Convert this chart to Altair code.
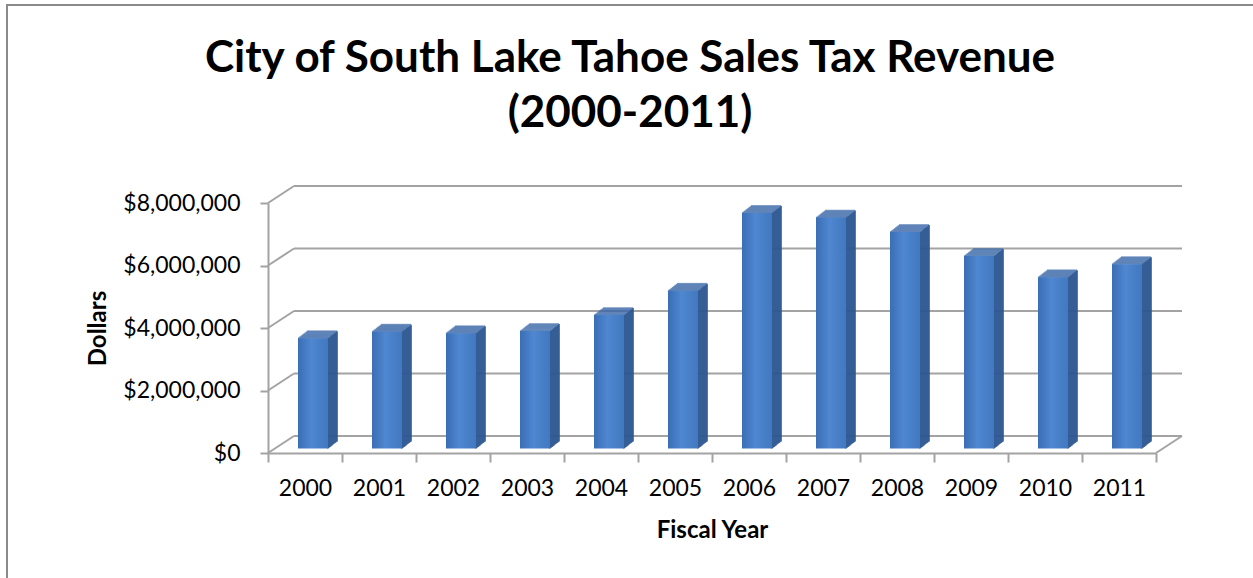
import altair as alt
import pandas as pd

# ---- data ----
years = ["2000", "2001", "2002", "2003", "2004", "2005",
         "2006", "2007", "2008", "2009", "2010", "2011"]
revenue = [3530000, 3740000, 3690000, 3760000, 4270000, 5050000,
           7540000, 7390000, 6930000, 6160000, 5480000, 5900000]
grid_values = [0, 2000000, 4000000, 6000000, 8000000]
title_lines = ["City of South Lake Tahoe Sales Tax Revenue", "(2000-2011)"]

df = pd.DataFrame({"Year": years, "Revenue": revenue})
grid_df = pd.DataFrame({"v": grid_values})
one_df = pd.DataFrame({"a": [0]})

# ---- style / layout ----
W, H = 888, 250
DX, DY = 26, 17          # depth of the wall/floor
BX, BY = 8, 4.5          # bar front plane offset
BW = 30                  # bar width
SX, SY = 9, 7            # bar depth
FONT = "Lato"
GRID = "#A3A3A3"
FRONT = alt.Gradient(
    gradient="linear", x1=0, x2=1, y1=0, y2=0,
    stops=[alt.GradientStop(color="#3A6EB5", offset=0),
           alt.GradientStop(color="#4F87D0", offset=0.45),
           alt.GradientStop(color="#4178BF", offset=1)])
SIDE = "#2D5892"
TOP = "#3A68A8"

yscale = alt.Scale(domain=[0, 8000000], nice=False, zero=True)
xscale = alt.Scale(domain=years, paddingInner=0, paddingOuter=0)

base = alt.Chart(df)

x_axis = alt.Axis(
    title="Fiscal Year", titleFont=FONT, titleFontSize=24, titleFontWeight="bold",
    titleColor="black", titleY=84, titleBaseline="alphabetic",
    labelFont=FONT, labelFontSize=23, labelColor="black", labelAngle=0,
    labelBaseline="alphabetic", labelPadding=33,
    tickBand="extent", tickSize=9, tickWidth=2, tickColor=GRID,
    domainColor=GRID, domainWidth=2, grid=False)
y_axis = alt.Axis(
    title="Dollars", titleFont=FONT, titleFontSize=24, titleFontWeight="bold",
    titleColor="black", titleX=-163, titleY=H / 2, titleAngle=-90,
    titleBaseline="alphabetic", titleAlign="center",
    labelFont=FONT, labelFontSize=23, labelColor="black", labelPadding=20,
    format="$,.0f", values=grid_values,
    tickSize=8, tickWidth=2, tickColor=GRID,
    domainColor=GRID, domainWidth=2, grid=False)

X = alt.X("Year:O", scale=xscale, axis=x_axis, sort=years)
Y = alt.Y("Revenue:Q", scale=yscale, axis=y_axis)
YV = alt.Y("v:Q", scale=yscale, axis=y_axis)

# back wall gridlines
back_grid = alt.Chart(grid_df).mark_rule(
    color=GRID, strokeWidth=2, yOffset=-DY
).encode(x=alt.value(DX), x2=alt.value(W + DX), y=YV)

# left wall diagonals
left_diag = alt.Chart(grid_df).mark_rule(
    color=GRID, strokeWidth=2, y2Offset=-DY
).encode(x=alt.value(0), x2=alt.value(DX), y=YV, y2=alt.Y2("v"))

# right floor diagonal
right_diag = alt.Chart(grid_df).transform_filter("datum.v == 0").mark_rule(
    color=GRID, strokeWidth=2, y2Offset=-DY
).encode(x=alt.value(W), x2=alt.value(W + DX), y=YV, y2=alt.Y2("v"))

# bar side faces
side_layers = []
for k in range(SX + 1):
    side_layers.append(
        base.mark_rule(color=SIDE, strokeWidth=1.6,
                       xOffset=BX + BW / 2 + k,
                       yOffset=-BY - k * SY / SX,
                       y2Offset=-BY - k * SY / SX).encode(
            x=X, y=Y, y2=alt.datum(0)))

# bar top faces
top_layers = []
for j in range(SY + 1):
    top_layers.append(
        base.mark_tick(color=TOP, orient="horizontal", size=BW, thickness=1.6,
                       xOffset=BX + j * SX / SY, yOffset=-BY - j).encode(
            x=X, y=Y))

# bar front faces
front = base.mark_bar(size=BW, color=FRONT, xOffset=BX,
                      yOffset=-BY, y2Offset=-BY).encode(
    x=X, y=Y, y2=alt.datum(0),
    tooltip=["Year", alt.Tooltip("Revenue:Q", format="$,.0f")])

# outer chart border
border = alt.Chart(one_df).mark_rect(
    filled=False, stroke="#8A8A8A", strokeWidth=2
).encode(x=alt.value(7 - 268), x2=alt.value(1500),
         y=alt.value(5 - 203), y2=alt.value(800))

title1 = alt.Chart(one_df).mark_text(
    text=title_lines[0], font=FONT, fontSize=44, fontWeight="bold",
    color="black", align="center", baseline="alphabetic"
).encode(x=alt.value(630 - 268), y=alt.value(72 - 203))
title2 = alt.Chart(one_df).mark_text(
    text=title_lines[1], font=FONT, fontSize=44, fontWeight="bold",
    color="black", align="center", baseline="alphabetic"
).encode(x=alt.value(630 - 268), y=alt.value(127 - 203))

chart = alt.layer(
    back_grid, left_diag, right_diag, *side_layers, *top_layers, front,
    border, title1, title2
).properties(
    width=W, height=H,
    autosize=alt.AutoSizeParams(type="none"),
    padding={"left": 268, "top": 203, "right": 1253 - 268 - W, "bottom": 578 - 203 - H},
    background="white"
).configure_view(stroke=None)

chart.save("out.html", embed_options={"renderer": "svg", "actions": False})
